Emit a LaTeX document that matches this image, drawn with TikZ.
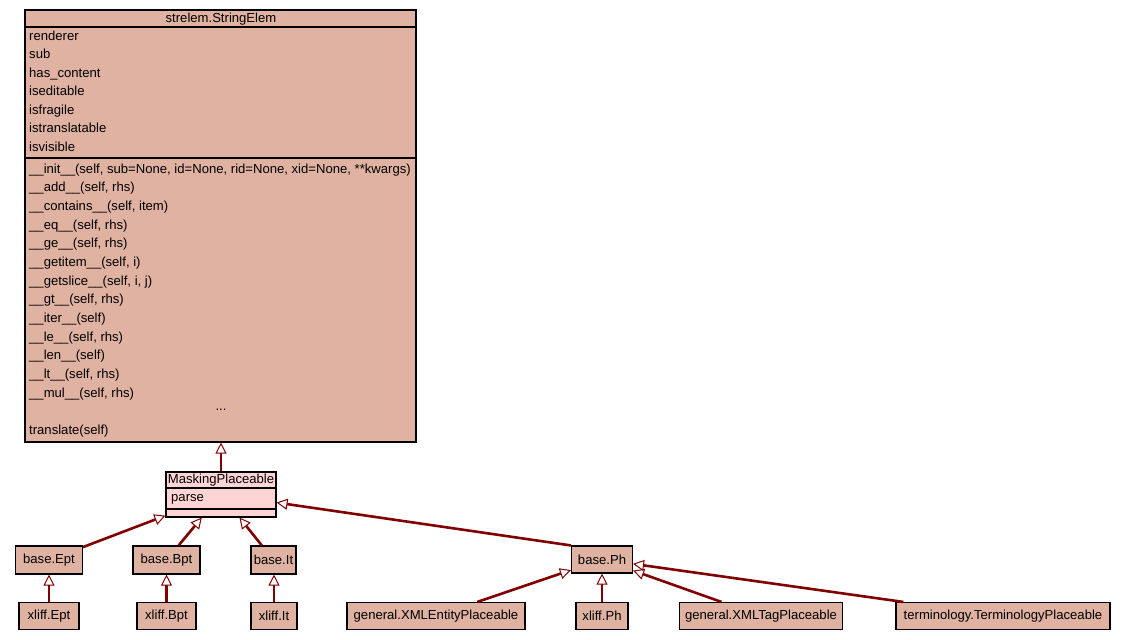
\documentclass[tikz,border=0pt]{standalone}
\usepackage{fontspec}
\setmainfont{Liberation Sans}
\usetikzlibrary{arrows.meta}
\definecolor{clsfill}{HTML}{E0B2A2}
\definecolor{maskfill}{HTML}{FFD4D4}
\definecolor{edgecol}{HTML}{800000}
\begin{document}
\begin{tikzpicture}[x=1pt,y=-1pt,
  lbl/.style={font=\fontsize{13.1}{15}\selectfont},
  cls/.style={draw=black, line width=1.1pt, fill=clsfill, inner sep=0pt, lbl},
  row/.style={inner sep=0pt, anchor=mid west, lbl},
  inherit/.style={draw=edgecol, line width=2.6pt,
    -{Triangle[open, length=11pt, width=11pt, line width=1pt, fill=white]}}
]
\path[use as bounding box] (0,0) rectangle (1125,640);

% strelem.StringElem with its attributes and methods
\node[cls, minimum width=391pt, minimum height=432pt] (se) at (220.5,226) {};
\node[lbl, inner sep=0pt] (setitle) at (221,19) {strelem.StringElem};
\draw[line width=1.1pt] (25,27) -- (416,27);
\draw[line width=1.1pt] (25,158) -- (416,158);
\foreach \t [count=\i] in {renderer, sub, has\_content, iseditable, isfragile, istranslatable, isvisible}
  \node[row] (attr\i) at (29,{37.5+18.5*(\i-1)}) {\t};
\foreach \t [count=\i] in {
  \_\_init\_\_(self{,} sub=None{,} id=None{,} rid=None{,} xid=None{,} **kwargs),
  \_\_add\_\_(self{,} rhs),
  \_\_contains\_\_(self{,} item),
  \_\_eq\_\_(self{,} rhs),
  \_\_ge\_\_(self{,} rhs),
  \_\_getitem\_\_(self{,} i),
  \_\_getslice\_\_(self{,} i{,} j),
  \_\_gt\_\_(self{,} rhs),
  \_\_iter\_\_(self),
  \_\_le\_\_(self{,} rhs),
  \_\_len\_\_(self),
  \_\_lt\_\_(self{,} rhs),
  \_\_mul\_\_(self{,} rhs)}
  \node[row] (meth\i) at (29,{170.5+18.68*(\i-1)}) {\t};
\node[lbl, inner sep=0pt] (methmore) at (221,410) {...};
\node[row] (methlast) at (29,431.5) {translate(self)};

% MaskingPlaceable
\node[cls, fill=maskfill, minimum width=110pt, minimum height=45pt] (mask) at (221,494.5) {};
\node[lbl, inner sep=0pt] (masktitle) at (221,480.5) {MaskingPlaceable};
\draw[line width=1.1pt] (166,488) -- (276,488);
\draw[line width=1.1pt] (166,509) -- (276,509);
\node[row] (maskparse) at (171,499) {parse};

% base classes
\node[cls, minimum width=67pt, minimum height=28pt] (bept) at (49,560) {base.Ept};
\node[cls, minimum width=67pt, minimum height=28pt] (bbpt) at (166.5,560) {base.Bpt};
\node[cls, minimum width=45pt, minimum height=28pt] (bit) at (273.5,560) {base.It};
\node[cls, minimum width=61pt, minimum height=27pt] (bph) at (602,559.5) {base.Ph};

% leaf classes
\node[cls, minimum width=60pt, minimum height=27pt] (xept) at (49,616) {xliff.Ept};
\node[cls, minimum width=59pt, minimum height=27pt] (xbpt) at (166.5,616) {xliff.Bpt};
\node[cls, minimum width=46pt, minimum height=27pt] (xit) at (274,616) {xliff.It};
\node[cls, minimum width=178pt, minimum height=27pt] (gent) at (436,616) {general.XMLEntityPlaceable};
\node[cls, minimum width=52pt, minimum height=27pt] (xph) at (602,616) {xliff.Ph};
\node[cls, minimum width=163pt, minimum height=27pt] (gtag) at (761,616) {general.XMLTagPlaceable};
\node[cls, minimum width=214pt, minimum height=27pt] (term) at (1003,616) {terminology.TerminologyPlaceable};

% inheritance edges
\draw[inherit] (mask.north) -- (mask.north |- se.south);
\draw[inherit] (bept) -- (mask);
\draw[inherit] (bbpt) -- (mask);
\draw[inherit] (bit) -- (mask);
\draw[inherit] (bph.north west) -- (mask);
\draw[inherit] (xept.north) -- (xept.north |- bept.south);
\draw[inherit] (xbpt.north) -- (xbpt.north |- bbpt.south);
\draw[inherit] (xit.north) -- (xit.north |- bit.south);
\draw[inherit] (gent) -- (bph);
\draw[inherit] (xph.north) -- (xph.north |- bph.south);
\draw[inherit] (gtag) -- (bph);
\draw[inherit] (term) -- (bph);
\end{tikzpicture}
\end{document}
